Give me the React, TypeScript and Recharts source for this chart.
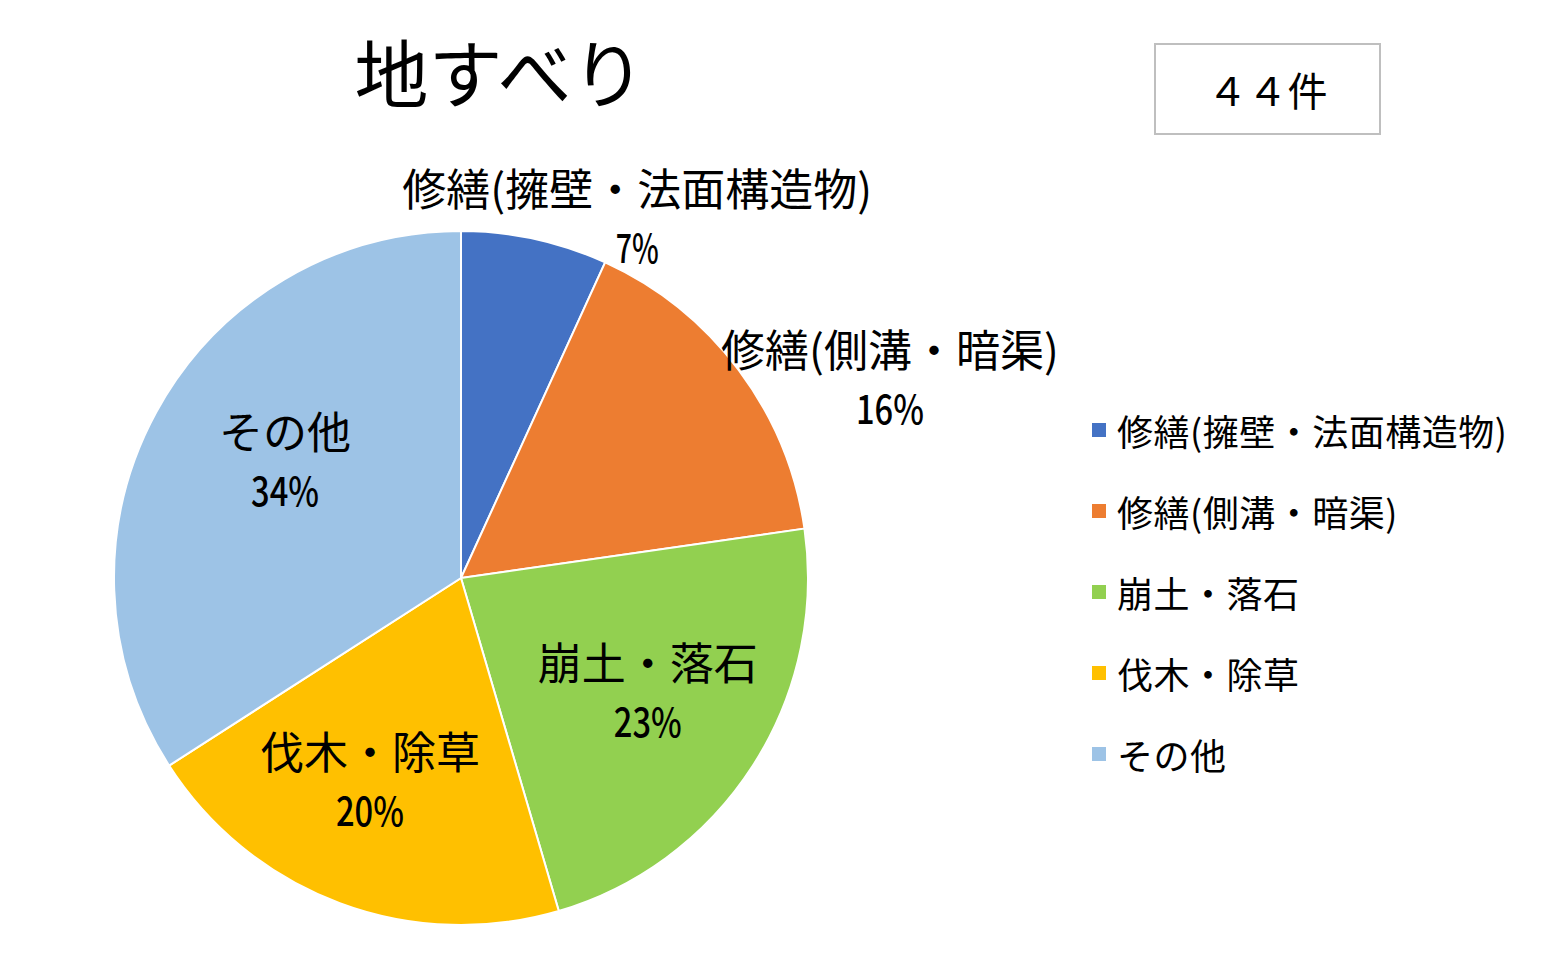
import { PieChart, Pie, Cell, Legend } from "recharts";

document.body.style.margin = "0";

const categories = [
  "修繕(擁壁・法面構造物)",
  "修繕(側溝・暗渠)",
  "崩土・落石",
  "伐木・除草",
  "その他",
];
const counts = [3, 7, 10, 9, 15];
const colors = ["#4472C4", "#ED7D31", "#92D050", "#FFC000", "#9DC3E6"];

// label placement relative to each slice (radius factor, angle shift in degrees)
const labelRadius = [1.155, 1.363, 0.631, 0.641, 0.609];
const labelShift = [-13.8, -11.9, 1.3, -3.7, -5];

const data = categories.map((name, i) => ({ name, value: counts[i] }));
const total = counts.reduce((a, b) => a + b, 0);

const cjk = "'Noto Sans CJK JP', 'Noto Sans', sans-serif";

const RAD = Math.PI / 180;

function renderLabel(props: any) {
  const { cx, cy, midAngle, outerRadius, index, value } = props;
  const a = (midAngle + labelShift[index]) * RAD;
  const r = outerRadius * labelRadius[index];
  const x = cx + r * Math.cos(a);
  const y = cy - r * Math.sin(a);
  const num = String(Math.round((value / total) * 100));
  // condensed percent text, like the original's narrow font
  const pctWidth = 25 * num.length + 18;
  return (
    <g>
      <text
        x={x}
        y={y - 31}
        textAnchor="middle"
        dominantBaseline="central"
        fontFamily={cjk}
        fontSize={44}
        fill="#000"
      >
        {categories[index]}
      </text>
      <text
        x={x}
        y={y + 28}
        textAnchor="middle"
        dominantBaseline="central"
        fontFamily={cjk}
        fontSize={40}
        fontWeight={500}
        textLength={pctWidth}
        lengthAdjust="spacingAndGlyphs"
        fill="#000"
      >
        {num + "%"}
      </text>
    </g>
  );
}

function LegendContent() {
  return (
    <div>
      {categories.map((name, i) => (
        <div
          key={name}
          style={{ display: "flex", alignItems: "center", height: 81 }}
        >
          <span
            style={{
              width: 14,
              height: 14,
              background: colors[i],
              marginRight: 11,
              flex: "none",
            }}
          />
          <span
            style={{
              fontFamily: cjk,
              fontSize: 36,
              letterSpacing: 0.5,
              color: "#000",
              whiteSpace: "nowrap",
            }}
          >
            {name}
          </span>
        </div>
      ))}
    </div>
  );
}

export default function App() {
  return (
    <div style={{ position: "relative", width: 1554, height: 976, background: "#fff" }}>
      <div
        style={{
          position: "absolute",
          left: 300,
          width: 400,
          top: 20,
          textAlign: "center",
          fontFamily: cjk,
          fontSize: 74,
          lineHeight: "100px",
          color: "#000",
        }}
      >
        地すべり
      </div>
      <div
        style={{
          position: "absolute",
          left: 1154,
          top: 43,
          width: 223,
          height: 88,
          border: "2px solid #bfbfbf",
          display: "flex",
          alignItems: "center",
          justifyContent: "center",
          fontFamily: cjk,
          fontSize: 40,
          color: "#000",
        }}
      >
        ４４件
      </div>
      <PieChart width={1554} height={976} margin={{ top: 0, right: 0, bottom: 0, left: 0 }}>
        <Pie
          data={data}
          dataKey="value"
          nameKey="name"
          cx={461}
          cy={578}
          outerRadius={347}
          startAngle={90}
          endAngle={-270}
          stroke="#fff"
          strokeWidth={2}
          label={renderLabel}
          labelLine={false}
          isAnimationActive={false}
        >
          {data.map((d, i) => (
            <Cell key={d.name} fill={colors[i]} />
          ))}
        </Pie>
        <Legend
          layout="vertical"
          content={<LegendContent />}
          wrapperStyle={{ left: 1092, top: 389, width: 460 }}
        />
      </PieChart>
    </div>
  );
}
